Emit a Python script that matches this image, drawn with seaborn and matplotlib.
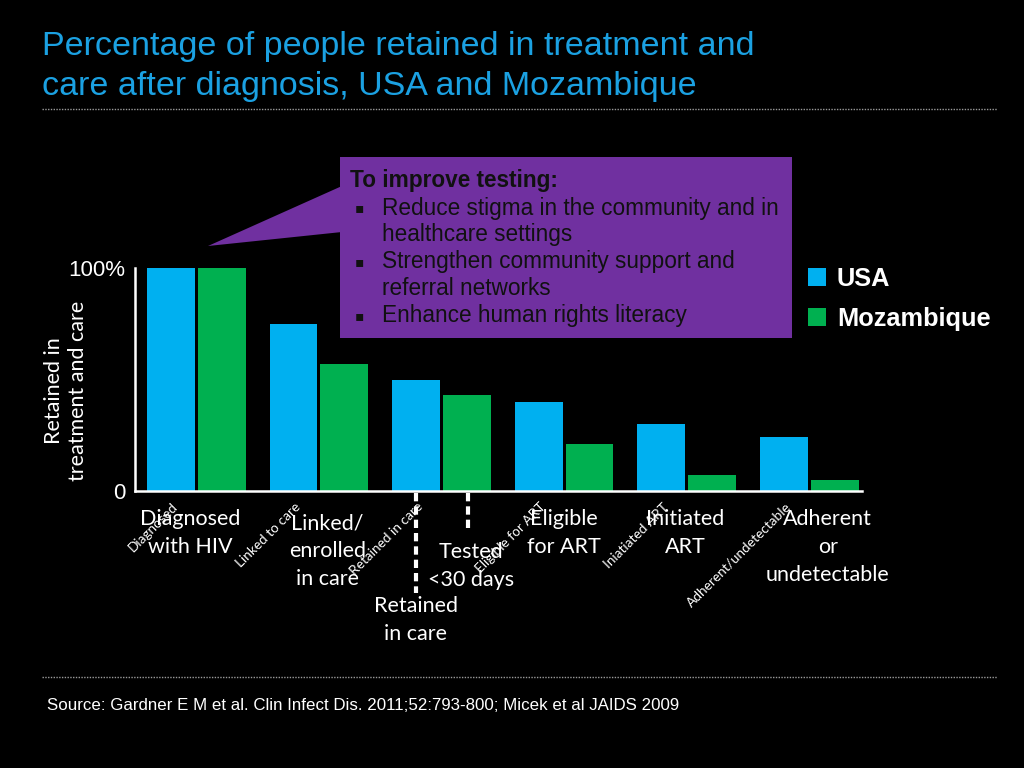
import numpy as np
import pandas as pd
import seaborn as sns
import matplotlib.pyplot as plt
from matplotlib.patches import Rectangle, Polygon
from matplotlib.lines import Line2D
from matplotlib.transforms import blended_transform_factory

# data
stages = ['Diagnosed', 'Linked to care', 'Retained in care', 'Eligible for ART',
          'Iniatiated ART', 'Adherent/undetectable']
usa = [100, 75, 50, 40, 30, 24]
mozambique = [100, 57, 43, 21, 7, 5]
countries = ['USA', 'Mozambique']

big_labels = ['Diagnosed\nwith HIV', 'Linked/\nenrolled\nin care', 'Eligible\nfor ART',
              'Initiated\nART', 'Adherent\nor\nundetectable']
big_label_stage = [0, 1, 3, 4, 5]
extra_labels = ['Retained\nin care', 'Tested\n<30 days']

title = 'Percentage of people retained in treatment and\ncare after diagnosis, USA and Mozambique'
ylabel = 'Retained in\ntreatment and care'
source = 'Source: Gardner E M et al. Clin Infect Dis. 2011;52:793-800; Micek et al JAIDS 2009'
callout_head = 'To improve testing:'
callout_bullets = [['Reduce stigma in the community and in', 'healthcare settings'],
                   ['Strengthen community support and', 'referral networks'],
                   ['Enhance human rights literacy']]

BLUE = '#00b0f0'
GREEN = '#00b050'
PURPLE = '#7030a0'
TITLE_BLUE = '#1ba1e2'

df = pd.DataFrame({
    'stage': stages * 2,
    'country': ['USA'] * len(stages) + ['Mozambique'] * len(stages),
    'value': usa + mozambique,
})

sns.set_style('white')
plt.rcParams['font.family'] = ['Liberation Sans', 'DejaVu Sans']
CAL = ['Lato', 'DejaVu Sans']

W, H = 1024, 768
fig = plt.figure(figsize=(10.24, 7.68), dpi=100, facecolor='black')
ax = fig.add_axes([135 / W, 1 - 491 / H, (862 - 135) / W, 223 / H])
ax.set_facecolor('black')

sns.barplot(data=df, x='stage', y='value', hue='country', order=stages, hue_order=countries,
            palette=[BLUE, GREEN], saturation=1, width=0.83, gap=0.06, ax=ax,
            linewidth=0, edgecolor='none')

ax.set_ylim(0, 100)
ax.set_xlim(-0.5, 5.43)
for s in ['top', 'right']:
    ax.spines[s].set_visible(False)
for s in ['left', 'bottom']:
    ax.spines[s].set_color('white')
    ax.spines[s].set_linewidth(1.8)

ax.set_yticks([0, 100], ['0', '100%'])
ax.tick_params(axis='y', length=0, pad=7, labelcolor='white', labelsize=16)
ax.set_xlabel('')
ax.set_ylabel(ylabel, color='white', fontsize=15.5, family=CAL, linespacing=1.25)
ax.yaxis.set_label_coords(-0.064, 0.45)

# small tilted labels under the USA bars
ax.set_xticks(np.arange(len(stages)) - 0.2)
ax.set_xticklabels(stages, rotation=45, ha='right', rotation_mode='anchor',
                   color='white', fontsize=9.8, family=CAL)
ax.tick_params(axis='x', length=0, pad=7)

# legend
ax.legend(handles=ax.get_legend_handles_labels()[0], labels=countries,
          loc='upper left', bbox_to_anchor=(808 / W, 1 - 267 / H), bbox_transform=fig.transFigure,
          frameon=False, borderaxespad=0, borderpad=0, handlelength=0.72, handleheight=0.72,
          handletextpad=0.42, labelspacing=0.62,
          prop={'weight': 'bold', 'size': 18.3}, labelcolor='white')
for h in ax.get_legend().legend_handles:
    h.set_edgecolor('none')

# big category labels
tr = blended_transform_factory(ax.transData, fig.transFigure)
offsets = [-0.05, 0.07, 0.0, -0.01, 0.15]
tops = [509, 513, 509, 509, 509]
lab_font = dict(color='white', fontsize=15.5, family=CAL,
                ha='center', va='top', linespacing=1.5, transform=tr)
for lab, i, off, top in zip(big_labels, big_label_stage, offsets, tops):
    ax.text(i + off, 1 - top / H, lab, **lab_font)

# dashed markers under the group 'Retained in care' bars
ax.add_line(Line2D([2 - 0.21, 2 - 0.21], [1 - 493 / H, 1 - 593 / H], transform=tr,
                   color='white', lw=3, ls=(0, (2, 1.2)), clip_on=False))
ax.add_line(Line2D([2 + 0.22, 2 + 0.22], [1 - 493 / H, 1 - 530 / H], transform=tr,
                   color='white', lw=3, ls=(0, (2, 1.2)), clip_on=False))
ax.text(2 - 0.21, 1 - 596 / H, extra_labels[0], **lab_font)
ax.text(2 + 0.24, 1 - 542 / H, extra_labels[1], **lab_font)

# title and separators
fig.text(42 / W, 1 - 31 / H, title, color=TITLE_BLUE, fontsize=24.5,
         va='top', ha='left', linespacing=1.36)
for yy in [109, 677]:
    fig.add_artist(Line2D([42 / W, 997 / W], [1 - yy / H] * 2, color='#9a9a9a', lw=1, ls=(0, (1, 1))))
fig.text(47 / W, 1 - 706 / H, source, color='white', fontsize=12.2, va='center', ha='left')

# callout
fig.add_artist(Polygon([(208 / W, 1 - 246 / H), (342 / W, 1 - 186 / H), (342 / W, 1 - 232 / H)],
                       closed=True, facecolor=PURPLE, edgecolor='none', transform=fig.transFigure))
fig.add_artist(Rectangle((340 / W, 1 - 338 / H), (792 - 340) / W, (338 - 157) / H,
                         facecolor=PURPLE, edgecolor='none', transform=fig.transFigure))
fig.text(350 / W, 1 - 181 / H, callout_head, color='#111111', fontsize=16.3, weight='bold', va='center')
y = 208
for bullet in callout_bullets:
    fig.text(355 / W, 1 - y / H, '\u25aa', color='#111111', fontsize=10, va='center', family='DejaVu Sans')
    for line in bullet:
        fig.text(382 / W, 1 - y / H, line, color='#111111', fontsize=16.3, va='center')
        y += 27

fig.savefig('out.png', dpi=100, facecolor='black')
